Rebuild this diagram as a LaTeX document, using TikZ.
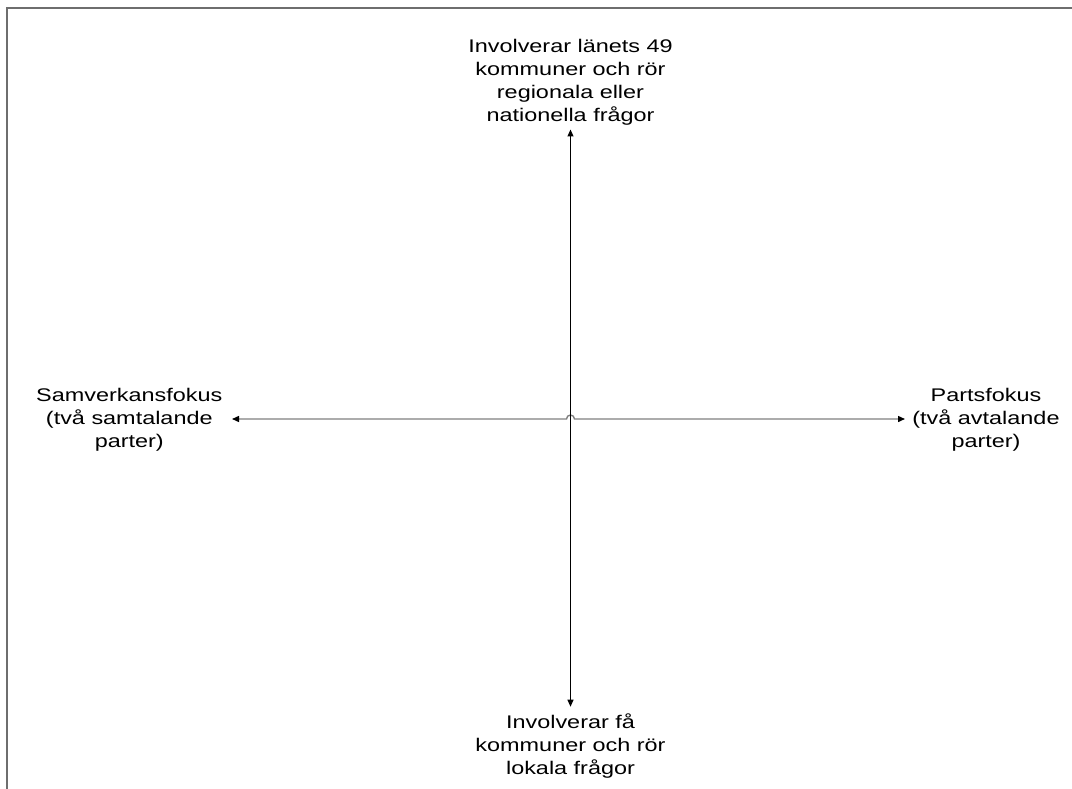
\documentclass[tikz,border=0pt]{standalone}
\usepackage{fontspec}
\setmainfont{Liberation Sans}[FakeStretch=1.28]
\usetikzlibrary{arrows.meta}
\tikzset{
  lbl/.style={align=center, inner sep=0pt, anchor=base, font={\fontsize{18.3}{23}\selectfont}},
  frameline/.style={draw={rgb,255:red,110;green,110;blue,110}, line width=1.5pt},
  tip/.style={Triangle[length=7pt,width=6pt,color=black]},
  haxis/.style={draw={rgb,255:red,128;green,128;blue,128}, line width=1.4pt, {Triangle[length=7pt,width=6pt,color=black]}-{Triangle[length=7pt,width=6pt,color=black]}},
  vaxis/.style={draw=black, line width=1pt, {Triangle[length=7pt,width=6pt]}-{Triangle[length=7pt,width=6pt]}}
}
\begin{document}
\begin{tikzpicture}[x=1pt,y=-1pt]
\useasboundingbox (0,0) rectangle (1072,789);
\draw[frameline] (7,789) -- (7,8) -- (1072,8);
\node[lbl] (top) at (570.5,121.7) {Involverar länets 49\\kommuner och rör\\regionala eller\\nationella frågor};
\node[lbl] (bottom) at (570.5,774.5) {Involverar få\\kommuner och rör\\lokala frågor};
\node[lbl] (left) at (129.3,447.5) {Samverkansfokus\\(två samtalande\\parter)};
\node[lbl] (right) at (986,447.5) {Partsfokus\\(två avtalande\\parter)};
\coordinate (L) at (232,419);
\coordinate (R) at (905,419);
\coordinate (T) at (570.5,129.5);
\coordinate (B) at (570.5,706.7);
\coordinate (hopA) at (566.5,419);
\draw[haxis] (L) -- (hopA) arc[start angle=180,end angle=360,radius=4] -- (R);
\draw[vaxis] (T) -- (B);
\end{tikzpicture}
\end{document}
